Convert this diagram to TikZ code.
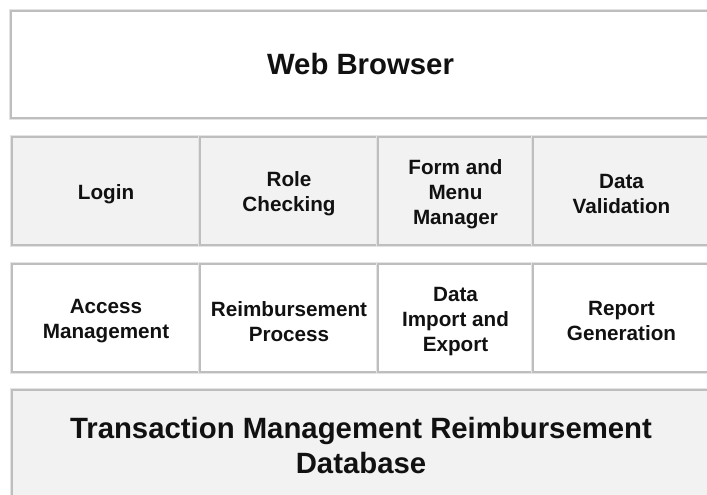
\documentclass[tikz,border=0pt]{standalone}
\usepackage{fontspec}
\setmainfont{Liberation Sans}
\definecolor{cellgray}{HTML}{F2F2F2}
\definecolor{edgegray}{HTML}{BEBEBE}
\definecolor{halo}{HTML}{E4E4E4}
\definecolor{ink}{HTML}{111111}
\tikzset{
  box/.style={rectangle, anchor=north west, inner sep=0pt, outer sep=0pt,
    draw=edgegray, line width=1.2pt, preaction={draw=halo, line width=3.6pt}},
  cellrow/.style={box, minimum height=81pt},
  graycell/.style={fill=cellgray},
  whitecell/.style={fill=white},
  celltext/.style={text=ink, align=center, inner sep=0pt, font=\bfseries\fontsize{15.5}{18.75}\selectfont},
  bigtext/.style={text=ink, align=center, inner sep=0pt, font=\bfseries\fontsize{22}{26.25}\selectfont}
}
\begin{document}
\begin{tikzpicture}[x=0.75pt,y=-0.75pt]
\useasboundingbox (0,0) rectangle (707,495);
\fill[white] (0,0) rectangle (707,495);
\clip (0,0) rectangle (707,495);
% Web browser
\node[box, whitecell, minimum width=524.25pt, minimum height=80.25pt] (wb) at (11,11) {};
\node[bigtext] (wbt) at (wb.center) {Web Browser};
% Row 2
\node[cellrow, graycell, minimum width=141pt] (login) at (12,137) {};
\node[cellrow, graycell, minimum width=133.5pt] (role) at (200,137) {};
\node[cellrow, graycell, minimum width=116.25pt] (form) at (378,137) {};
\node[cellrow, graycell, minimum width=132.75pt] (valid) at (533,137) {};
% Row 3
\node[cellrow, whitecell, minimum width=141pt] (access) at (12,264) {};
\node[cellrow, whitecell, minimum width=133.5pt] (reimb) at (200,264) {};
\node[cellrow, whitecell, minimum width=116.25pt] (import) at (378,264) {};
\node[cellrow, whitecell, minimum width=132.75pt] (report) at (533,264) {};
% texts
\node[celltext] (logint) at ([yshift=-2.4pt]login.center) {Login};
\node[celltext] (rolet) at ([yshift=-2.4pt]role.center) {Role\\Checking};
\node[celltext] (formt) at ([yshift=-2.4pt]form.center) {Form and\\Menu\\Manager};
\node[celltext] (validt) at ([yshift=-2.4pt]valid.center) {Data\\Validation};
\node[celltext] (accesst) at ([yshift=-2.6pt]access.center) {Access\\Management};
\node[celltext] (reimbt) at ([yshift=-2.6pt]reimb.center) {Reimbursement\\Process};
\node[celltext] (importt) at ([yshift=-2.6pt]import.center) {Data\\Import and\\Export};
\node[celltext] (reportt) at ([yshift=-2.6pt]report.center) {Report\\Generation};
% Database
\node[box, graycell, minimum width=523.5pt, minimum height=97.5pt] (db) at (12,390) {};
\node[bigtext] (dbtext) at (361,446) {Transaction Management Reimbursement\\Database};
\end{tikzpicture}
\end{document}
